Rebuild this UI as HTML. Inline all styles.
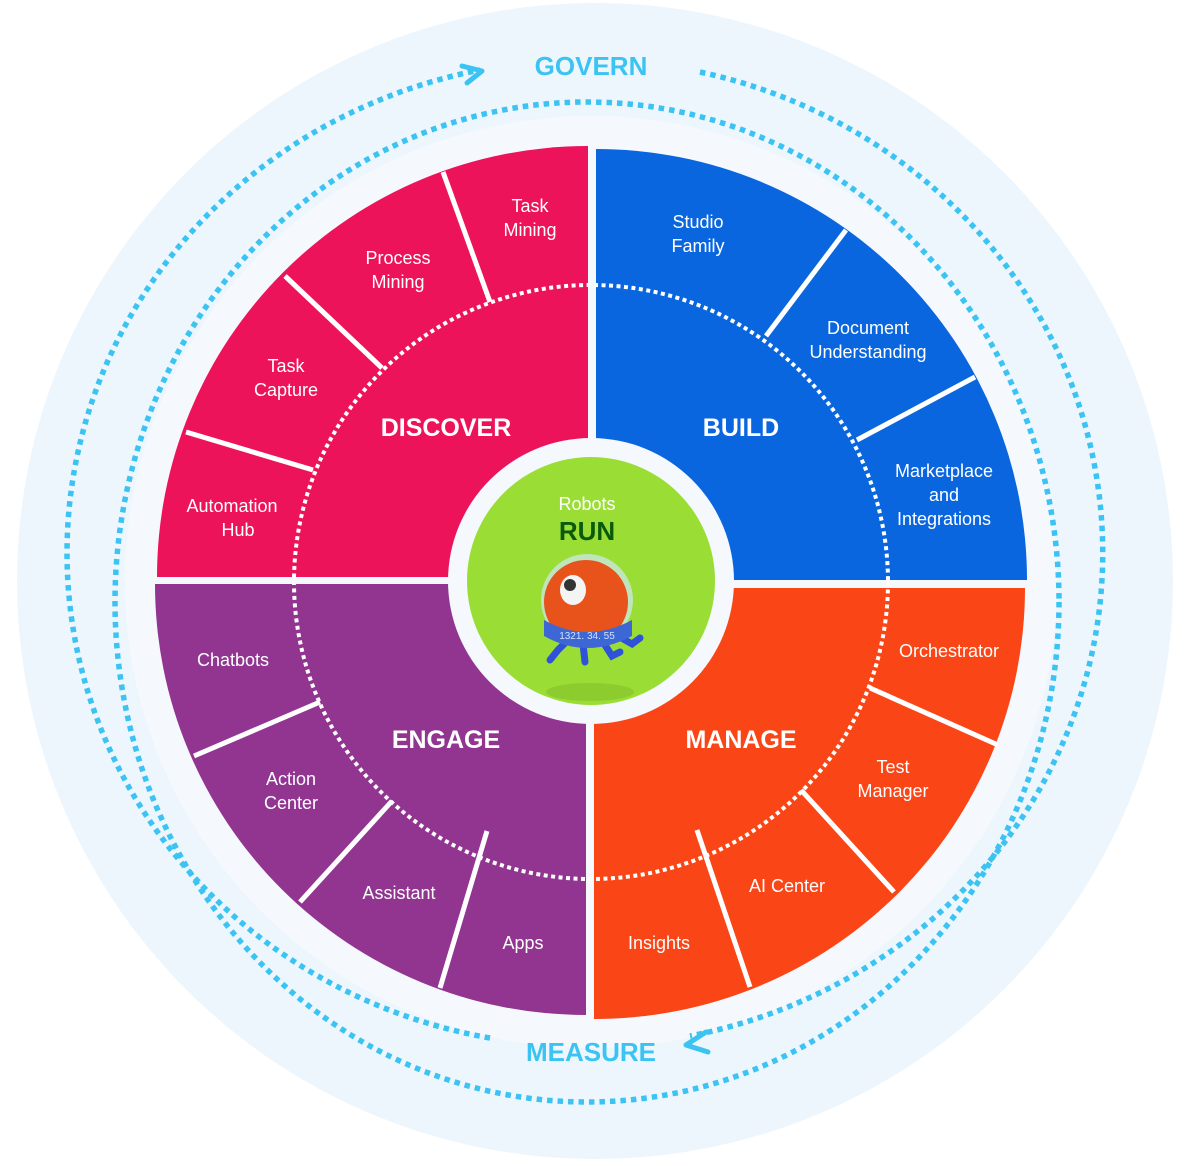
<!DOCTYPE html>
<html><head><meta charset="utf-8"><style>
html,body{margin:0;padding:0;background:#fff;}
svg{display:block;}
text{font-family:"Liberation Sans",Arial,sans-serif;}
.l{fill:#fff;font-size:18px;text-anchor:middle;}
.t{fill:#fff;font-size:25px;font-weight:bold;text-anchor:middle;}
.g{fill:#3bc3f2;font-size:26px;font-weight:bold;text-anchor:middle;}
</style></head><body>
<svg width="1190" height="1166" viewBox="0 0 1190 1166" xmlns="http://www.w3.org/2000/svg">
<circle cx="595" cy="581" r="578" fill="#eef6fd"/>
<circle cx="591" cy="582" r="466" fill="#f5f9fe"/>
<ellipse cx="587" cy="602" rx="472" ry="500" fill="none" stroke="#3bc3f2" stroke-width="5.5" stroke-dasharray="5.5 5"/>
<path d="M700 72 A516 493 0 0 1 690 1036" fill="none" stroke="#3bc3f2" stroke-width="5.5" stroke-dasharray="5.5 5"/>
<path d="M490 1038 A516 493 0 0 1 480 70" fill="none" stroke="#3bc3f2" stroke-width="5.5" stroke-dasharray="5.5 5"/>
<polyline points="462,66 482,71 467,83" fill="none" stroke="#3bc3f2" stroke-width="5" stroke-linecap="round" stroke-linejoin="round"/>
<polyline points="706,1032 686,1045 708,1052" fill="none" stroke="#3bc3f2" stroke-width="5" stroke-linecap="round" stroke-linejoin="round"/>
<text class="g" x="591" y="75">GOVERN</text>
<text class="g" x="591" y="1061">MEASURE</text>
<path d="M588 577 L157 577 A431 431 0 0 1 588 146 Z" fill="#ec135a"/>
<path d="M596 580 L596 149 A431 431 0 0 1 1027 580 Z" fill="#0a66de"/>
<path d="M586 584 L586 1015 A431 431 0 0 1 155 584 Z" fill="#913591"/>
<path d="M594 588 L1025 588 A431 431 0 0 1 594 1019 Z" fill="#fa4516"/>
<circle cx="591" cy="582" r="297" fill="none" stroke="#fff" stroke-width="4" stroke-dasharray="4 3.5"/>
<g stroke="#fff" stroke-width="5">
<line x1="490" y1="302" x2="443" y2="172"/>
<line x1="382" y1="368" x2="285" y2="276"/>
<line x1="313" y1="470" x2="186" y2="432"/>
<line x1="766" y1="336" x2="846" y2="230"/>
<line x1="857" y1="440" x2="975" y2="377"/>
<line x1="870" y1="688" x2="998" y2="745"/>
<line x1="801" y1="790" x2="894" y2="892"/>
<line x1="697" y1="830" x2="750" y2="987"/>
<line x1="320" y1="702" x2="194" y2="756"/>
<line x1="392" y1="801" x2="300" y2="902"/>
<line x1="487" y1="831" x2="440" y2="988"/>
</g>
<circle cx="591" cy="581" r="143" fill="#f5f9fe"/>
<circle cx="591" cy="581" r="124" fill="#9ade35"/>
<text class="l" x="587" y="510">Robots</text>
<text x="587" y="540" font-size="26" font-weight="bold" fill="#0b5a0b" text-anchor="middle">RUN</text>
<ellipse cx="590" cy="692" rx="44" ry="9" fill="#86c52c" opacity="0.7"/>
<g stroke="#2f53d8" stroke-width="7" stroke-linecap="round" fill="none">
<path d="M568 640 L558 650 L550 660"/><path d="M583 644 L585 662"/><path d="M603 642 L612 656 L620 652"/><path d="M618 636 L632 644 L640 638"/>
</g>
<circle cx="587" cy="600" r="46" fill="#cfe8f8" opacity="0.7"/>
<circle cx="586" cy="602" r="42" fill="#e8531c"/>
<ellipse cx="573" cy="590" rx="13" ry="15" fill="#f4f4f4"/>
<circle cx="570" cy="585" r="6" fill="#333"/>
<path d="M544 620 Q587 644 632 620 L632 636 Q587 660 544 636 Z" fill="#3e67d6"/>
<text x="587" y="639" font-size="10" fill="#cfe0ff" text-anchor="middle">1321. 34. 55</text>
<text class="t" x="446" y="436">DISCOVER</text>
<text class="t" x="741" y="436">BUILD</text>
<text class="t" x="446" y="748">ENGAGE</text>
<text class="t" x="741" y="748">MANAGE</text>
<text class="l" x="530" y="212">Task</text><text class="l" x="530" y="236">Mining</text>
<text class="l" x="398" y="264">Process</text><text class="l" x="398" y="288">Mining</text>
<text class="l" x="286" y="372">Task</text><text class="l" x="286" y="396">Capture</text>
<text class="l" x="232" y="512">Automation</text><text class="l" x="238" y="536">Hub</text>
<text class="l" x="698" y="228">Studio</text><text class="l" x="698" y="252">Family</text>
<text class="l" x="868" y="334">Document</text><text class="l" x="868" y="358">Understanding</text>
<text class="l" x="944" y="477">Marketplace</text><text class="l" x="944" y="501">and</text><text class="l" x="944" y="525">Integrations</text>
<text class="l" x="949" y="657">Orchestrator</text>
<text class="l" x="893" y="773">Test</text><text class="l" x="893" y="797">Manager</text>
<text class="l" x="787" y="892">AI Center</text>
<text class="l" x="659" y="949">Insights</text>
<text class="l" x="233" y="666">Chatbots</text>
<text class="l" x="291" y="785">Action</text><text class="l" x="291" y="809">Center</text>
<text class="l" x="399" y="899">Assistant</text>
<text class="l" x="523" y="949">Apps</text>
</svg>
</body></html>
